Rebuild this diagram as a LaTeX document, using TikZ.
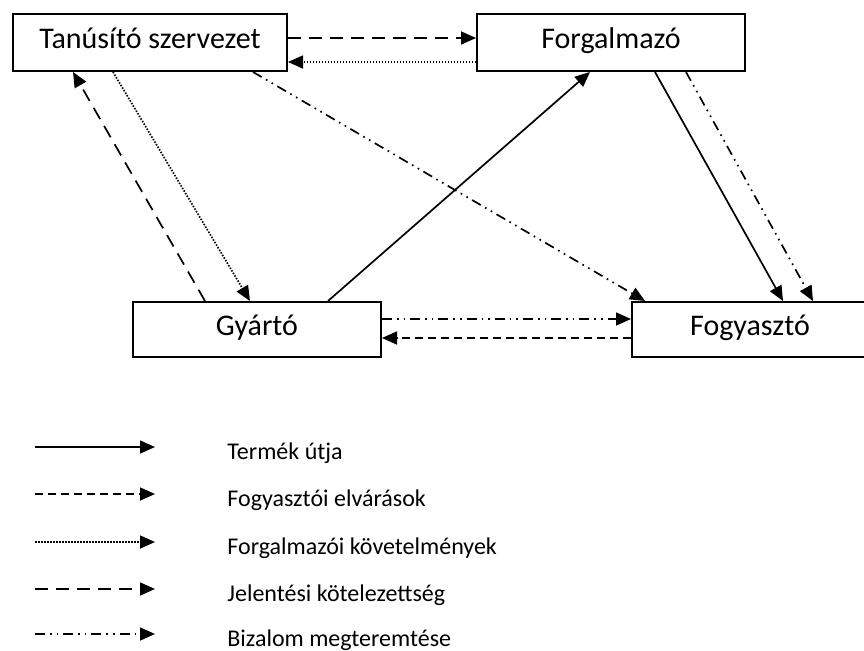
\documentclass[tikz,border=0pt]{standalone}
\usepackage{fontspec}
\setmainfont{Carlito}
\usetikzlibrary{arrows.meta}

\tikzset{
  box/.style={draw,line width=1pt,inner sep=0pt,text height=0.64em,text depth=0pt,font=\fontsize{15}{18}\selectfont},
  link/.style={line width=0.85pt,-{Triangle[length=7.5pt,width=6.5pt]}},
  termek/.style={link},
  elvaras/.style={link,dash pattern=on 4pt off 2.5pt},
  kovetel/.style={link,dash pattern=on 0.75pt off 0.75pt},
  jelentes/.style={link,dash pattern=on 6.5pt off 4pt},
  bizalom/.style={link,dash pattern=on 5pt off 2.5pt on 0.8pt off 2.5pt on 0.8pt off 2.5pt},
  jelmagyarazat/.style={anchor=base west,inner sep=0pt,font=\fontsize{12}{14}\selectfont}
}

\begin{document}
\begin{tikzpicture}[x=0.5pt,y=-0.5pt]
\useasboundingbox (0,0) rectangle (864,650);

\node[box,minimum width=137pt,minimum height=28.5pt] (tan) at (150,42.5) {Tanúsító szervezet};
\node[box,minimum width=134pt,minimum height=28.5pt] (forg) at (611,42.5) {Forgalmazó};
\node[box,minimum width=124pt,minimum height=27.5pt] (gyar) at (257,329.5) {Gyártó};
\node[box,minimum width=118pt,minimum height=27.5pt] (fogy) at (750,329.5) {Fogyasztó};

\draw[jelentes] ([yshift=2.25pt]tan.east) -- ([yshift=2.25pt]forg.west);
\draw[kovetel] ([yshift=-9.75pt]forg.west) -- ([yshift=-9.75pt]tan.east);
\draw[jelentes] ([xshift=-26pt]gyar.north) -- ([xshift=-38.5pt]tan.south);
\draw[kovetel] ([xshift=-18.5pt]tan.south) -- ([xshift=-3.5pt]gyar.north);
\draw[bizalom] ([xshift=51.5pt]tan.south) -- ([xshift=-52.5pt]fogy.north);
\draw[termek] ([xshift=35.5pt]gyar.north) -- ([xshift=-10.5pt]forg.south);
\draw[termek] ([xshift=22pt]forg.south) -- ([xshift=16.5pt]fogy.north);
\draw[bizalom] ([xshift=37.5pt]forg.south) -- ([xshift=31.5pt]fogy.north);
\draw[bizalom] ([yshift=5.25pt]gyar.east) -- ([yshift=5.25pt]fogy.west);
\draw[elvaras] ([yshift=-4.25pt]fogy.west) -- ([yshift=-4.25pt]gyar.east);

\foreach \sty/\txt/\y [count=\i] in {termek/Termék útja/447,
    elvaras/Fogyasztói elvárások/494,
    kovetel/Forgalmazói követelmények/542,
    jelentes/Jelentési kötelezettség/589,
    bizalom/Bizalom megteremtése/634}{
  \coordinate (jel\i a) at (35,\y);
  \coordinate (jel\i b) at (155,\y);
  \draw[\sty] (jel\i a) -- (jel\i b);
  \node[jelmagyarazat] (szoveg\i) at (227,\y+12) {\txt};
}
\end{tikzpicture}
\end{document}
